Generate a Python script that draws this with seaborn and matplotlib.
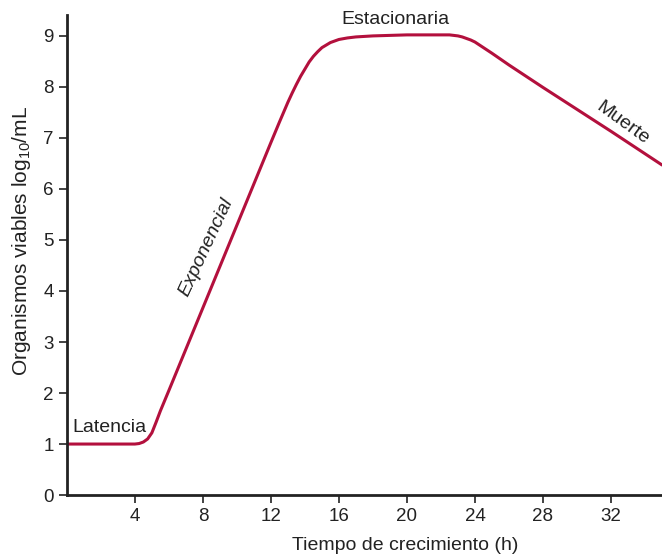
import matplotlib
matplotlib.use("Agg")
import matplotlib.pyplot as plt
import seaborn as sns
import pandas as pd

# Data
hours = [0, 1, 2, 3, 4, 4.25, 4.5, 4.75, 5, 5.25, 5.5, 6, 7, 8, 9, 10, 11, 12,
         12.5, 13, 13.25, 13.5, 13.75, 14, 14.25, 14.5, 14.75, 15, 15.5, 16,
         16.5, 17, 18, 19, 20, 21, 22, 22.5, 23, 23.25, 23.5, 23.75, 24, 24.5,
         25, 26, 28, 30, 32, 34, 35]
log_counts = [1.0, 1.0, 1.0, 1.0, 1.0, 1.01, 1.04, 1.1, 1.22, 1.43, 1.65, 2.05,
              2.86, 3.67, 4.48, 5.29, 6.1, 6.91, 7.31, 7.7, 7.88, 8.05, 8.21,
              8.35, 8.49, 8.6, 8.69, 8.77, 8.87, 8.93, 8.96, 8.98, 9.0, 9.01,
              9.02, 9.02, 9.02, 9.02, 9.0, 8.98, 8.95, 8.92, 8.88, 8.77, 8.66,
              8.43, 7.99, 7.56, 7.13, 6.69, 6.47]
x_ticks = [4, 8, 12, 16, 20, 24, 28, 32]
y_ticks = [0, 1, 2, 3, 4, 5, 6, 7, 8, 9]
phase_labels = ["Latencia", "Exponencial", "Estacionaria", "Muerte"]

sns.set_theme(style="white")
plt.rcParams['font.family'] = ['Liberation Sans', 'DejaVu Sans']
plt.rcParams['mathtext.default'] = 'regular'

df = pd.DataFrame({"h": hours, "v": log_counts})

fig = plt.figure(figsize=(6.62, 5.55), dpi=100)
ax = fig.add_axes([0.101, 0.108, 0.899, 0.865])
sns.lineplot(data=df, x="h", y="v", ax=ax, color="#B3103D", linewidth=2.2)

ax.set_xlim(0, 35)
ax.set_ylim(0, 9.41)
ax.set_xticks(x_ticks)
ax.set_yticks(y_ticks)
ax.tick_params(axis='both', labelsize=13.5, colors='#222222', length=6, width=1.2,
               direction='out', bottom=True, left=True)
sns.despine(ax=ax)
for s in ['left', 'bottom']:
    ax.spines[s].set_color('#222222')
    ax.spines[s].set_linewidth(2.0)

ax.set_xlabel("Tiempo de crecimiento (h)", fontsize=14, color='#222222')
ax.set_ylabel(r"Organismos viables log$_{10}$/mL", fontsize=15, color='#222222')
ax.xaxis.set_label_coords(0.568, -0.088)
ax.yaxis.set_label_coords(-0.057, 0.53)

tc = '#222222'
ax.text(0.3, 1.33, phase_labels[0], fontsize=14, color=tc, ha='left', va='center')
ax.text(8.2, 4.86, phase_labels[1], fontsize=14, color=tc, ha='center', va='center',
        rotation=65, style='italic')
ax.text(19.3, 9.33, phase_labels[2], fontsize=14, color=tc, ha='center', va='center')
ax.text(32.7, 7.29, phase_labels[3], fontsize=14, color=tc, ha='center', va='center',
        rotation=-36)

fig.savefig("out.png", dpi=100)
